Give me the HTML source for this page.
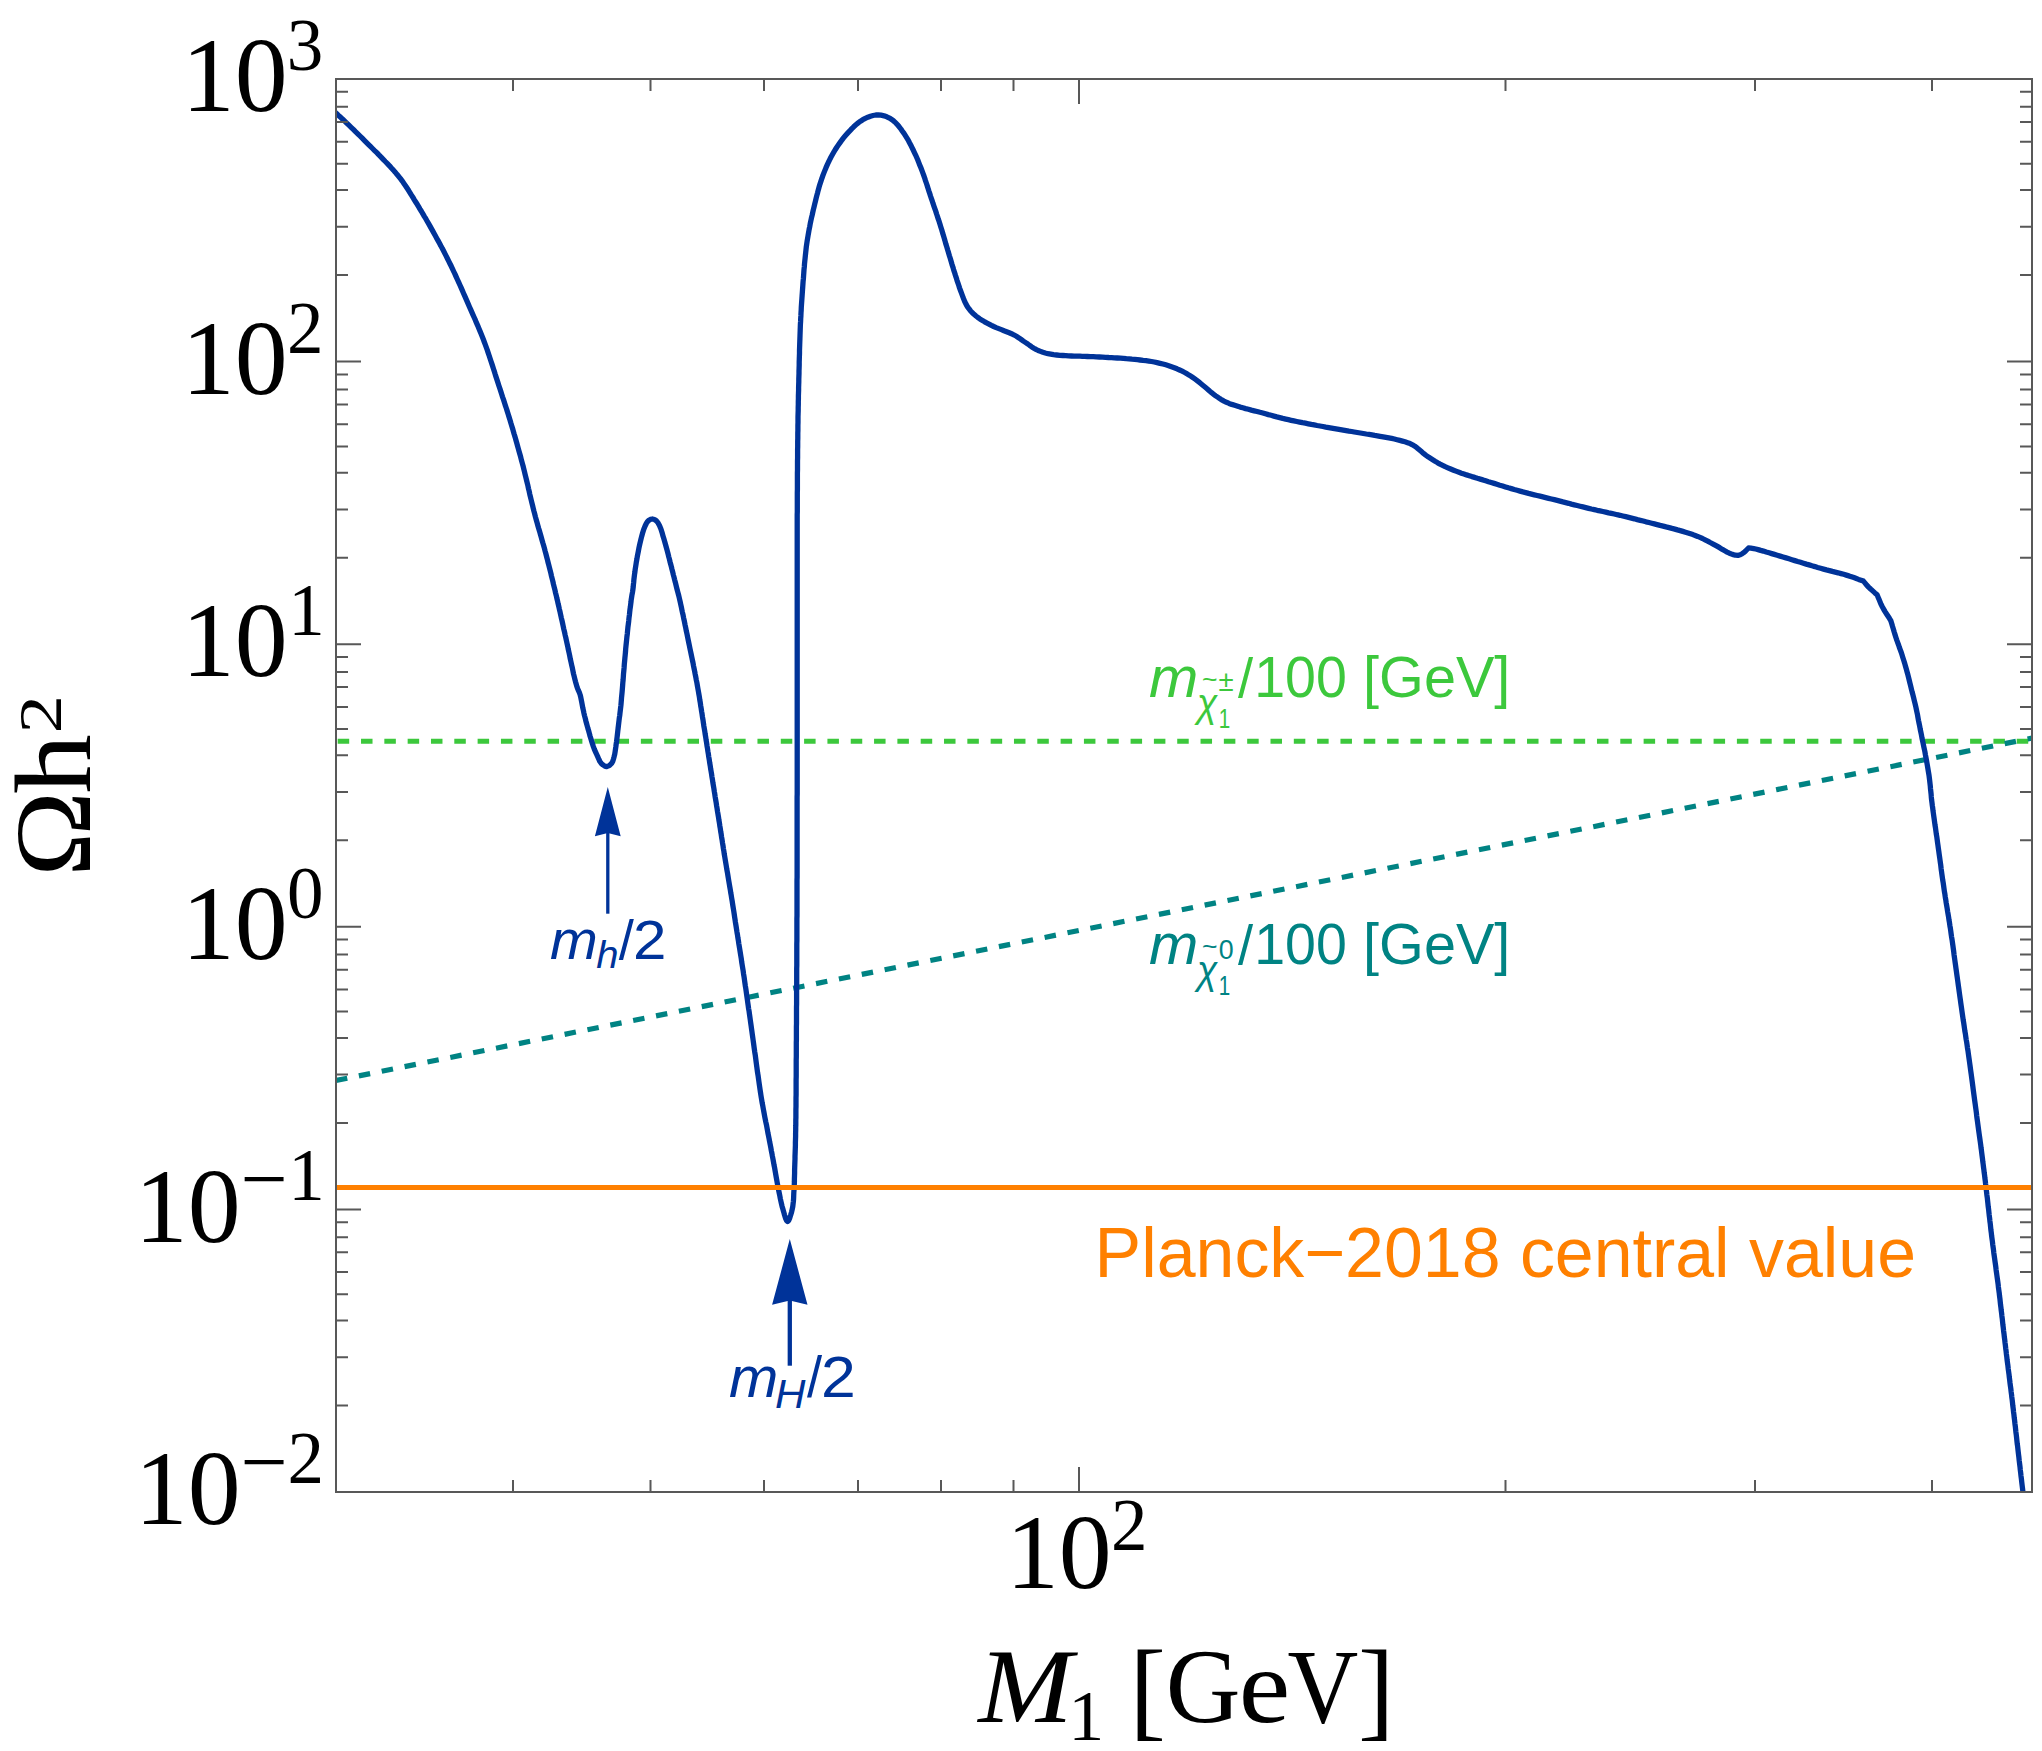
<!DOCTYPE html>
<html lang="en"><head><meta charset="utf-8"><title>Relic density versus M1</title>
<style>html,body{margin:0;padding:0;background:#fff;}body{width:2042px;height:1751px;overflow:hidden;}svg{display:block;}text{font-kerning:none;white-space:pre;}.s{font-family:"Liberation Serif","DejaVu Serif",serif;}.a{font-family:"Liberation Sans","DejaVu Sans",sans-serif;}</style></head><body>
<svg xmlns="http://www.w3.org/2000/svg" width="2042" height="1751" viewBox="0 0 2042 1751">
<rect x="0" y="0" width="2042" height="1751" fill="#ffffff"/>
<defs><clipPath id="c"><rect x="336.00" y="79.00" width="1696.00" height="1413.00"/></clipPath></defs>
<g clip-path="url(#c)" fill="none">
<path d="M336.0,741.30 L2062.0,741.30" stroke="#3cc83c" stroke-width="4.90" stroke-dasharray="11.5,11.82" stroke-dashoffset="-1.70"/>
<path d="M336.0,1080.5 L2032.0,738.1" stroke="#008383" stroke-width="5.20" stroke-dasharray="11.5,11.82" stroke-dashoffset="0.00"/>
<path d="M330.0,107.6 L331.9,109.3 L333.8,111.0 L336.2,113.2 L337.6,114.5 L339.1,116.0 L340.9,117.6 L342.7,119.3 L344.7,121.2 L346.7,123.1 L348.9,125.2 L351.1,127.3 L353.3,129.4 L355.5,131.6 L357.8,133.8 L360.0,136.0 L362.2,138.2 L364.3,140.3 L366.3,142.3 L368.3,144.3 L370.4,146.4 L372.5,148.5 L374.6,150.6 L376.8,152.7 L378.9,154.9 L381.1,157.1 L383.2,159.3 L385.3,161.5 L387.4,163.6 L389.5,165.8 L391.4,168.0 L393.4,170.1 L395.2,172.2 L396.9,174.3 L398.6,176.3 L400.5,178.7 L402.3,181.1 L403.9,183.4 L405.5,185.7 L407.0,188.0 L408.5,190.3 L409.9,192.6 L411.3,194.9 L412.8,197.2 L414.2,199.6 L415.7,202.0 L417.2,204.3 L418.6,206.7 L420.0,209.1 L421.5,211.5 L422.9,213.9 L424.3,216.3 L425.8,218.7 L427.2,221.2 L428.6,223.6 L430.0,226.1 L431.4,228.6 L432.8,231.1 L434.1,233.5 L435.5,236.0 L436.8,238.4 L438.2,240.9 L439.5,243.3 L440.8,245.8 L442.2,248.3 L443.5,250.8 L444.8,253.4 L446.1,255.9 L447.4,258.5 L448.7,261.1 L450.0,263.7 L451.3,266.3 L452.5,268.9 L453.7,271.5 L455.0,274.2 L456.2,276.9 L457.4,279.5 L458.6,282.2 L459.9,285.0 L461.1,287.7 L462.3,290.4 L463.5,293.2 L464.7,295.9 L465.9,298.6 L467.1,301.4 L468.3,304.1 L469.4,306.7 L470.6,309.4 L471.8,312.1 L473.0,314.8 L474.2,317.5 L475.4,320.2 L476.5,322.9 L477.7,325.6 L478.8,328.3 L480.0,331.1 L481.1,333.8 L482.2,336.5 L483.3,339.3 L484.3,342.0 L485.3,344.7 L486.3,347.4 L487.3,350.1 L488.2,352.8 L489.1,355.5 L490.0,358.3 L490.9,361.0 L491.8,363.7 L492.7,366.4 L493.6,369.2 L494.5,371.9 L495.3,374.6 L496.2,377.4 L497.1,380.1 L498.0,382.9 L498.9,385.7 L499.9,388.6 L500.8,391.4 L501.7,394.2 L502.6,397.1 L503.6,399.9 L504.5,402.8 L505.4,405.6 L506.4,408.5 L507.3,411.4 L508.2,414.2 L509.1,417.1 L510.0,420.0 L510.8,422.8 L511.7,425.7 L512.6,428.6 L513.4,431.4 L514.2,434.3 L515.1,437.1 L515.9,440.0 L516.7,442.8 L517.5,445.7 L518.3,448.6 L519.1,451.4 L519.9,454.3 L520.7,457.1 L521.4,460.0 L522.2,462.9 L523.0,465.7 L523.7,468.6 L524.4,471.4 L525.1,474.3 L525.8,477.2 L526.5,480.0 L527.2,482.9 L527.9,485.7 L528.5,488.6 L529.2,491.4 L529.8,494.3 L530.5,497.1 L531.2,500.0 L531.9,502.8 L532.6,505.7 L533.3,508.6 L534.0,511.4 L534.8,514.3 L535.5,517.1 L536.3,520.0 L537.1,522.8 L537.9,525.7 L538.7,528.5 L539.6,531.4 L540.4,534.3 L541.2,537.1 L542.0,540.0 L542.8,542.8 L543.7,545.7 L544.5,548.6 L545.2,551.4 L546.0,554.3 L546.7,557.0 L547.4,559.7 L548.1,562.5 L548.8,565.2 L549.5,567.9 L550.2,570.7 L550.9,573.4 L551.5,576.1 L552.2,578.9 L552.9,581.6 L553.5,584.4 L554.2,587.1 L554.9,589.8 L555.5,592.6 L556.2,595.3 L556.8,598.0 L557.5,600.8 L558.1,603.7 L558.8,606.5 L559.4,609.3 L560.1,612.2 L560.7,615.0 L561.3,617.8 L562.0,620.6 L562.6,623.4 L563.2,626.3 L563.8,629.1 L564.5,631.9 L565.1,634.8 L565.8,637.6 L566.4,640.5 L567.0,643.3 L567.7,646.3 L568.3,649.4 L569.0,652.5 L569.7,655.7 L570.3,658.9 L571.0,662.0 L571.7,665.2 L572.4,668.2 L573.0,671.2 L573.6,674.1 L574.3,676.8 L574.9,679.3 L575.5,681.7 L576.1,683.8 L576.6,685.7 L577.6,688.5 L578.5,690.7 L579.4,692.7 L580.2,695.0 L580.8,697.4 L581.3,700.0 L581.8,702.6 L582.3,705.3 L582.8,707.9 L583.4,710.5 L583.9,713.0 L584.5,715.6 L585.2,718.1 L585.8,720.7 L586.5,723.3 L587.2,725.9 L587.9,728.4 L588.7,731.0 L589.4,733.6 L590.1,736.2 L590.9,738.8 L591.7,741.4 L592.5,743.9 L593.3,746.4 L594.3,749.1 L595.5,751.8 L596.6,754.3 L597.7,756.7 L598.8,759.2 L599.9,761.5 L601.3,763.4 L603.0,764.9 L604.8,766.1 L606.7,766.6 L609.3,765.6 L611.6,763.4 L612.7,761.5 L613.4,759.2 L614.1,756.7 L614.7,754.3 L615.1,751.8 L615.5,749.1 L615.9,746.4 L616.2,743.9 L616.6,741.4 L616.9,738.8 L617.2,736.2 L617.5,733.6 L617.8,731.0 L618.1,728.4 L618.4,725.9 L618.7,723.3 L619.0,720.7 L619.3,718.1 L619.7,715.6 L620.0,713.0 L620.3,710.5 L620.6,707.9 L620.9,705.5 L621.1,703.2 L621.3,700.8 L621.5,698.1 L621.8,695.0 L622.0,693.0 L622.2,690.7 L622.4,688.3 L622.6,685.7 L622.8,683.0 L623.1,680.1 L623.3,677.1 L623.5,674.0 L623.8,670.9 L624.1,667.7 L624.3,664.5 L624.6,661.3 L624.9,658.1 L625.2,654.9 L625.5,651.8 L625.7,648.7 L626.0,645.7 L626.3,642.9 L626.6,639.9 L626.9,636.9 L627.3,633.8 L627.6,630.6 L627.9,627.4 L628.3,624.3 L628.7,621.1 L629.0,618.0 L629.4,615.0 L629.7,612.1 L630.0,609.3 L630.4,606.7 L630.7,604.2 L631.0,601.9 L631.2,599.8 L631.5,598.0 L632.0,594.7 L632.5,592.2 L632.9,589.5 L633.2,587.2 L633.4,584.7 L633.7,582.2 L633.9,579.6 L634.2,577.1 L634.5,574.6 L634.9,572.0 L635.2,569.4 L635.6,566.9 L636.0,564.3 L636.4,561.7 L636.9,559.1 L637.3,556.6 L637.8,554.0 L638.3,551.4 L638.8,548.8 L639.3,546.3 L639.9,543.7 L640.5,541.2 L641.1,538.6 L641.8,535.9 L642.6,533.1 L643.4,530.4 L644.3,527.9 L645.2,525.7 L646.2,523.7 L647.3,521.9 L648.5,520.6 L650.4,519.4 L652.4,519.0 L654.4,519.5 L656.3,520.8 L658.1,522.9 L659.6,525.7 L660.5,527.9 L661.4,530.4 L662.2,533.1 L663.0,535.9 L663.8,538.6 L664.6,541.2 L665.3,543.7 L666.0,546.3 L666.7,548.8 L667.4,551.4 L668.1,554.0 L668.7,556.6 L669.4,559.1 L670.0,561.7 L670.7,564.3 L671.4,566.9 L672.0,569.4 L672.7,572.0 L673.3,574.6 L674.0,577.1 L674.6,579.6 L675.3,582.2 L675.9,584.7 L676.5,587.2 L677.1,589.5 L677.8,592.2 L678.5,594.7 L679.3,598.0 L679.7,599.8 L680.2,601.9 L680.7,604.2 L681.3,606.8 L681.8,609.4 L682.4,612.3 L683.1,615.2 L683.7,618.3 L684.4,621.4 L685.0,624.6 L685.7,627.8 L686.3,630.9 L687.0,634.0 L687.6,637.1 L688.2,640.1 L688.8,642.9 L689.4,645.8 L690.0,648.7 L690.6,651.5 L691.2,654.4 L691.8,657.2 L692.4,660.1 L693.0,662.9 L693.5,665.8 L694.1,668.6 L694.7,671.5 L695.2,674.3 L695.8,677.1 L696.3,680.0 L696.9,682.8 L697.4,685.7 L697.9,688.6 L698.4,691.4 L698.9,694.3 L699.4,697.1 L699.8,700.0 L700.3,702.8 L700.7,705.7 L701.2,708.6 L701.6,711.4 L702.1,714.3 L702.5,717.2 L703.0,720.0 L703.4,722.9 L703.8,725.7 L704.3,728.6 L704.8,731.5 L705.2,734.3 L705.7,737.2 L706.1,740.0 L706.6,742.9 L707.0,745.7 L707.5,748.6 L707.9,751.4 L708.4,754.3 L708.8,757.1 L709.3,760.0 L709.7,762.8 L710.2,765.7 L710.6,768.5 L711.1,771.4 L711.6,774.3 L712.0,777.1 L712.5,780.0 L712.9,782.8 L713.4,785.7 L713.9,788.6 L714.3,791.4 L714.8,794.3 L715.2,797.1 L715.7,800.0 L716.2,802.9 L716.6,805.7 L717.1,808.6 L717.5,811.4 L718.0,814.3 L718.5,817.2 L718.9,820.0 L719.4,822.9 L719.8,825.7 L720.3,828.6 L720.7,831.5 L721.2,834.3 L721.6,837.2 L722.1,840.0 L722.5,842.9 L723.0,845.7 L723.4,848.6 L723.9,851.4 L724.3,854.3 L724.8,857.1 L725.3,860.1 L725.8,863.1 L726.3,866.2 L726.8,869.3 L727.4,872.4 L727.9,875.5 L728.4,878.6 L728.9,881.6 L729.4,884.6 L729.9,887.5 L730.4,890.4 L730.8,893.1 L731.3,895.8 L731.7,898.3 L732.2,901.3 L732.6,904.0 L733.0,906.5 L733.4,908.9 L733.8,911.4 L734.2,914.0 L734.6,916.8 L735.1,920.0 L735.4,922.2 L735.8,924.5 L736.2,927.0 L736.6,929.6 L737.0,932.2 L737.5,935.0 L737.9,937.8 L738.4,940.7 L738.8,943.6 L739.3,946.6 L739.8,949.7 L740.3,952.7 L740.8,955.8 L741.3,958.9 L741.7,962.0 L742.2,965.1 L742.7,968.1 L743.2,971.2 L743.6,974.2 L744.1,977.1 L744.5,980.0 L744.9,982.9 L745.3,985.7 L745.8,988.6 L746.2,991.4 L746.6,994.3 L747.0,997.1 L747.4,1000.0 L747.8,1002.9 L748.2,1005.7 L748.6,1008.6 L749.1,1011.4 L749.5,1014.3 L749.9,1017.1 L750.3,1020.0 L750.7,1022.9 L751.1,1025.7 L751.5,1028.6 L751.9,1031.4 L752.3,1034.3 L752.7,1037.1 L753.1,1040.0 L753.5,1042.9 L753.9,1045.8 L754.3,1048.8 L754.7,1051.7 L755.2,1054.7 L755.6,1057.7 L756.0,1060.8 L756.4,1063.8 L756.8,1066.8 L757.2,1069.8 L757.6,1072.8 L758.1,1075.7 L758.5,1078.7 L758.9,1081.5 L759.3,1084.4 L759.7,1087.1 L760.1,1089.9 L760.5,1092.5 L760.9,1095.1 L761.3,1097.6 L761.7,1100.0 L762.2,1103.1 L762.8,1106.1 L763.3,1108.9 L763.8,1111.6 L764.3,1114.3 L764.8,1116.9 L765.3,1119.5 L765.8,1122.0 L766.4,1124.6 L766.9,1127.3 L767.4,1130.0 L767.9,1132.9 L768.5,1135.8 L769.1,1138.7 L769.6,1141.6 L770.2,1144.6 L770.8,1147.5 L771.3,1150.5 L771.9,1153.4 L772.4,1156.3 L773.0,1159.2 L773.5,1162.0 L774.0,1164.9 L774.6,1167.8 L775.1,1170.7 L775.6,1173.6 L776.1,1176.5 L776.6,1179.3 L777.1,1182.1 L777.6,1184.8 L778.1,1187.4 L778.6,1190.0 L779.2,1192.9 L779.8,1195.8 L780.3,1198.5 L780.9,1201.2 L781.5,1203.8 L782.1,1206.4 L782.8,1208.8 L783.7,1211.9 L784.6,1215.3 L785.6,1218.4 L786.6,1220.6 L787.6,1221.5 L788.6,1220.6 L789.6,1218.4 L790.6,1215.3 L791.6,1211.9 L792.3,1208.8 L792.8,1206.4 L793.1,1203.8 L793.4,1201.2 L793.6,1198.5 L793.7,1195.7 L793.8,1192.9 L794.0,1190.0 L794.1,1187.3 L794.3,1184.6 L794.4,1181.9 L794.4,1179.1 L794.5,1176.2 L794.6,1173.3 L794.6,1170.3 L794.7,1167.3 L794.8,1164.3 L794.9,1161.7 L795.0,1159.0 L795.0,1156.4 L795.1,1153.8 L795.2,1151.1 L795.3,1148.4 L795.4,1145.6 L795.4,1142.7 L795.5,1139.7 L795.6,1136.6 L795.6,1133.4 L795.7,1130.0 L795.7,1127.6 L795.8,1125.2 L795.8,1122.7 L795.8,1120.2 L795.9,1117.6 L795.9,1114.9 L795.9,1112.3 L795.9,1109.5 L796.0,1106.7 L796.0,1103.9 L796.0,1101.0 L796.0,1098.1 L796.1,1095.1 L796.1,1092.1 L796.1,1089.1 L796.1,1086.0 L796.1,1082.9 L796.1,1079.8 L796.2,1076.6 L796.2,1073.3 L796.2,1070.1 L796.2,1066.8 L796.2,1063.5 L796.2,1060.2 L796.3,1056.8 L796.3,1053.4 L796.3,1050.0 L796.3,1047.5 L796.3,1045.0 L796.3,1042.4 L796.4,1039.9 L796.4,1037.3 L796.4,1034.6 L796.4,1032.0 L796.4,1029.3 L796.4,1026.6 L796.5,1023.9 L796.5,1021.1 L796.5,1018.4 L796.5,1015.6 L796.5,1012.8 L796.5,1010.0 L796.5,1007.1 L796.6,1004.3 L796.6,1001.4 L796.6,998.5 L796.6,995.6 L796.6,992.6 L796.6,989.7 L796.7,986.7 L796.7,983.8 L796.7,980.8 L796.7,977.8 L796.7,974.7 L796.7,971.7 L796.7,968.7 L796.8,965.6 L796.8,962.6 L796.8,959.5 L796.8,956.4 L796.8,953.3 L796.8,950.2 L796.8,947.1 L796.8,944.0 L796.9,940.9 L796.9,937.8 L796.9,934.6 L796.9,931.5 L796.9,928.4 L796.9,925.2 L796.9,922.1 L796.9,918.9 L797.0,915.8 L797.0,912.6 L797.0,909.5 L797.0,906.3 L797.0,903.2 L797.0,900.0 L797.0,897.2 L797.0,894.4 L797.0,891.6 L797.0,888.8 L797.0,886.0 L797.0,883.2 L797.0,880.3 L797.1,877.4 L797.1,874.6 L797.1,871.7 L797.1,868.8 L797.1,865.9 L797.1,863.0 L797.1,860.1 L797.1,857.2 L797.1,854.2 L797.1,851.3 L797.1,848.3 L797.1,845.4 L797.1,842.4 L797.1,839.4 L797.1,836.5 L797.1,833.5 L797.1,830.5 L797.1,827.5 L797.1,824.5 L797.1,821.5 L797.1,818.5 L797.1,815.4 L797.1,812.4 L797.1,809.4 L797.1,806.3 L797.1,803.3 L797.1,800.3 L797.1,797.2 L797.2,794.2 L797.2,791.1 L797.2,788.1 L797.2,785.0 L797.2,782.0 L797.2,778.9 L797.2,775.9 L797.2,772.8 L797.2,769.8 L797.2,766.7 L797.2,763.7 L797.2,760.6 L797.2,757.5 L797.2,754.5 L797.2,751.4 L797.2,748.4 L797.2,745.3 L797.2,742.3 L797.2,739.2 L797.2,736.2 L797.2,733.2 L797.2,730.1 L797.2,727.1 L797.2,724.1 L797.2,721.0 L797.2,718.0 L797.2,715.0 L797.2,712.0 L797.2,709.0 L797.2,706.0 L797.2,703.0 L797.2,700.0 L797.2,697.0 L797.2,694.0 L797.2,691.0 L797.2,687.9 L797.2,684.8 L797.2,681.8 L797.2,678.7 L797.2,675.6 L797.2,672.4 L797.2,669.3 L797.2,666.1 L797.2,663.0 L797.2,659.8 L797.2,656.7 L797.2,653.5 L797.2,650.3 L797.2,647.1 L797.2,643.9 L797.2,640.7 L797.2,637.5 L797.2,634.3 L797.2,631.1 L797.2,627.9 L797.2,624.6 L797.2,621.4 L797.2,618.2 L797.2,615.0 L797.2,611.8 L797.2,608.6 L797.2,605.5 L797.2,602.3 L797.2,599.1 L797.2,595.9 L797.2,592.8 L797.2,589.7 L797.2,586.5 L797.2,583.4 L797.2,580.3 L797.2,577.2 L797.2,574.1 L797.2,571.1 L797.2,568.0 L797.2,565.0 L797.2,562.0 L797.2,559.0 L797.2,556.0 L797.2,553.1 L797.2,550.2 L797.2,547.3 L797.2,544.4 L797.2,541.5 L797.2,538.7 L797.2,535.9 L797.2,533.1 L797.2,530.4 L797.2,527.7 L797.2,525.0 L797.2,522.3 L797.2,519.7 L797.2,517.1 L797.2,514.6 L797.3,512.0 L797.3,509.6 L797.3,507.1 L797.3,504.7 L797.3,502.3 L797.3,500.0 L797.3,496.4 L797.3,492.9 L797.4,489.4 L797.4,486.0 L797.4,482.7 L797.4,479.5 L797.4,476.3 L797.4,473.1 L797.5,470.0 L797.5,467.0 L797.5,464.0 L797.5,461.0 L797.6,458.1 L797.6,455.2 L797.6,452.4 L797.6,449.6 L797.7,446.8 L797.7,444.0 L797.7,441.3 L797.8,438.6 L797.8,435.9 L797.8,433.2 L797.9,430.6 L797.9,427.9 L797.9,425.3 L798.0,422.6 L798.0,420.0 L798.0,416.8 L798.1,413.7 L798.2,410.7 L798.2,407.6 L798.3,404.7 L798.3,401.7 L798.4,398.8 L798.4,395.9 L798.5,393.1 L798.6,390.3 L798.6,387.5 L798.7,384.7 L798.8,381.9 L798.8,379.2 L798.9,376.4 L799.0,373.7 L799.0,371.0 L799.1,368.3 L799.2,365.2 L799.2,362.2 L799.3,359.2 L799.4,356.2 L799.5,353.3 L799.5,350.4 L799.6,347.5 L799.7,344.6 L799.8,341.7 L799.9,338.8 L800.0,335.9 L800.1,333.0 L800.2,330.1 L800.3,327.1 L800.4,324.3 L800.6,321.4 L800.7,318.6 L800.9,315.7 L801.0,312.9 L801.2,310.0 L801.3,307.2 L801.5,304.3 L801.7,301.5 L801.9,298.6 L802.1,295.7 L802.3,292.9 L802.5,290.0 L802.7,287.2 L802.9,284.3 L803.1,281.4 L803.4,278.5 L803.6,275.6 L803.8,272.7 L804.0,269.8 L804.3,266.9 L804.5,264.0 L804.8,261.1 L805.1,258.2 L805.4,255.3 L805.7,252.5 L806.0,249.7 L806.3,246.9 L806.7,244.1 L807.1,241.4 L807.6,238.4 L808.1,235.4 L808.6,232.5 L809.1,229.6 L809.7,226.7 L810.2,223.9 L810.8,221.0 L811.4,218.2 L812.1,215.4 L812.7,212.6 L813.3,209.9 L814.0,207.1 L814.7,204.2 L815.4,201.3 L816.1,198.4 L816.8,195.6 L817.6,192.7 L818.3,189.9 L819.1,187.1 L819.9,184.3 L820.8,181.6 L821.7,178.9 L822.6,176.3 L823.7,173.4 L824.8,170.6 L825.9,167.9 L827.1,165.2 L828.3,162.5 L829.6,159.9 L830.9,157.3 L832.3,154.8 L833.7,152.3 L835.2,149.7 L836.8,147.2 L838.5,144.8 L840.2,142.4 L841.9,140.0 L843.7,137.7 L845.5,135.5 L847.4,133.4 L849.5,131.2 L851.6,128.9 L853.7,126.8 L855.9,124.8 L858.2,122.9 L860.5,121.2 L862.8,119.7 L865.3,118.4 L867.9,117.2 L870.5,116.2 L873.1,115.5 L875.8,115.0 L878.3,114.9 L881.1,115.2 L884.0,115.8 L886.8,116.8 L889.5,118.1 L892.0,119.7 L893.9,121.2 L895.8,122.9 L897.5,124.8 L899.2,126.8 L900.9,129.0 L902.4,131.2 L904.0,133.4 L905.4,135.6 L906.8,137.8 L908.2,140.1 L909.4,142.5 L910.7,144.9 L911.9,147.4 L913.1,149.8 L914.3,152.3 L915.5,154.8 L916.6,157.3 L917.7,159.8 L918.7,162.4 L919.7,164.9 L920.8,167.5 L921.8,170.2 L922.8,172.9 L923.7,175.3 L924.6,177.8 L925.4,180.4 L926.3,183.0 L927.2,185.6 L928.0,188.2 L928.8,190.8 L929.7,193.4 L930.5,196.0 L931.4,198.6 L932.3,201.2 L933.1,203.7 L934.0,206.3 L934.9,208.9 L935.8,211.4 L936.6,214.0 L937.5,216.6 L938.3,219.2 L939.2,221.7 L940.0,224.3 L940.9,227.2 L941.8,230.0 L942.6,232.9 L943.5,235.8 L944.4,238.7 L945.2,241.6 L946.0,244.4 L946.9,247.2 L947.7,250.0 L948.6,252.9 L949.4,255.7 L950.3,258.5 L951.1,261.3 L951.9,264.1 L952.8,266.8 L953.6,269.6 L954.5,272.3 L955.3,274.9 L956.2,277.6 L957.0,280.3 L957.9,282.9 L958.8,285.5 L959.6,288.1 L960.5,290.5 L961.4,292.9 L962.5,295.9 L963.6,298.8 L964.7,301.5 L966.0,304.1 L967.4,306.6 L968.9,308.7 L970.4,310.7 L972.1,312.5 L974.0,314.3 L976.0,316.0 L977.9,317.5 L979.9,318.9 L982.0,320.2 L984.3,321.6 L986.6,322.9 L989.0,324.1 L991.4,325.4 L993.7,326.5 L996.2,327.6 L998.8,328.6 L1001.4,329.6 L1004.0,330.7 L1006.6,331.7 L1009.2,332.7 L1011.5,333.7 L1013.7,334.8 L1016.4,336.3 L1018.9,337.9 L1021.2,339.5 L1023.4,341.1 L1025.7,342.6 L1027.8,344.0 L1029.8,345.5 L1031.8,346.9 L1033.9,348.2 L1036.0,349.4 L1038.2,350.5 L1040.5,351.4 L1042.9,352.3 L1045.3,353.0 L1048.0,353.7 L1050.7,354.2 L1053.6,354.7 L1056.7,355.0 L1059.8,355.3 L1062.9,355.5 L1065.8,355.7 L1068.5,355.9 L1071.5,356.0 L1074.1,356.1 L1076.8,356.1 L1080.0,356.2 L1082.2,356.3 L1084.7,356.4 L1087.4,356.5 L1090.3,356.6 L1093.2,356.7 L1096.3,356.9 L1099.4,357.0 L1102.6,357.1 L1105.6,357.3 L1108.7,357.5 L1111.6,357.6 L1114.3,357.8 L1117.3,358.0 L1120.4,358.2 L1123.3,358.4 L1126.3,358.7 L1129.1,358.9 L1132.0,359.2 L1134.7,359.4 L1137.4,359.7 L1140.0,360.0 L1143.1,360.4 L1146.0,360.7 L1148.8,361.1 L1151.5,361.5 L1154.3,362.0 L1157.1,362.6 L1160.0,363.3 L1162.9,364.0 L1165.8,364.8 L1168.7,365.7 L1171.5,366.7 L1174.3,367.7 L1177.0,368.8 L1179.6,370.0 L1182.2,371.2 L1184.7,372.5 L1187.2,373.9 L1189.7,375.4 L1192.1,377.0 L1194.5,378.7 L1196.8,380.4 L1199.1,382.2 L1201.3,384.0 L1203.4,385.7 L1205.6,387.5 L1207.6,389.2 L1209.6,391.0 L1211.6,392.7 L1213.7,394.3 L1215.7,395.8 L1217.7,397.2 L1219.7,398.6 L1221.8,399.9 L1224.0,401.1 L1226.5,402.3 L1229.1,403.4 L1231.8,404.4 L1234.7,405.3 L1237.7,406.3 L1240.2,407.1 L1242.8,407.8 L1245.6,408.6 L1248.4,409.3 L1251.3,410.1 L1254.2,410.8 L1257.1,411.5 L1260.0,412.3 L1262.8,413.0 L1265.5,413.8 L1268.3,414.6 L1271.1,415.3 L1273.9,416.1 L1276.8,416.9 L1279.7,417.6 L1282.7,418.4 L1285.7,419.1 L1288.4,419.7 L1291.1,420.3 L1293.9,420.9 L1296.7,421.5 L1299.6,422.1 L1302.5,422.7 L1305.4,423.2 L1308.4,423.8 L1311.3,424.4 L1314.2,424.9 L1317.1,425.5 L1320.0,426.0 L1322.9,426.5 L1325.8,427.1 L1328.7,427.6 L1331.6,428.1 L1334.5,428.6 L1337.5,429.1 L1340.4,429.6 L1343.2,430.1 L1346.1,430.6 L1348.9,431.1 L1351.6,431.5 L1354.3,432.0 L1357.3,432.5 L1360.4,433.0 L1363.3,433.5 L1366.3,434.0 L1369.1,434.4 L1372.0,434.9 L1374.7,435.4 L1377.4,435.8 L1380.0,436.3 L1383.1,436.9 L1386.0,437.4 L1388.8,437.9 L1391.6,438.4 L1394.4,439.0 L1397.1,439.7 L1399.8,440.4 L1402.4,441.1 L1405.0,441.8 L1407.6,442.7 L1410.1,443.6 L1412.5,444.8 L1414.8,446.2 L1417.1,447.9 L1419.3,449.8 L1421.4,451.6 L1423.5,453.4 L1425.7,455.1 L1428.1,456.8 L1430.4,458.3 L1432.7,459.8 L1435.1,461.3 L1437.7,462.8 L1440.1,464.1 L1442.6,465.3 L1445.2,466.6 L1447.9,467.8 L1450.7,469.0 L1453.6,470.2 L1456.6,471.4 L1459.0,472.3 L1461.4,473.2 L1464.0,474.0 L1466.6,474.9 L1469.2,475.7 L1471.9,476.6 L1474.7,477.4 L1477.4,478.3 L1480.2,479.1 L1482.9,479.9 L1485.7,480.8 L1488.5,481.7 L1491.2,482.5 L1494.1,483.4 L1496.9,484.3 L1499.8,485.2 L1502.7,486.0 L1505.5,486.9 L1508.4,487.8 L1511.3,488.6 L1514.2,489.5 L1517.1,490.3 L1520.0,491.1 L1522.9,491.9 L1525.7,492.6 L1528.6,493.4 L1531.4,494.1 L1534.3,494.8 L1537.1,495.5 L1540.0,496.2 L1542.9,496.9 L1545.7,497.6 L1548.6,498.3 L1551.4,499.0 L1554.3,499.7 L1557.2,500.4 L1560.0,501.1 L1562.9,501.9 L1565.7,502.6 L1568.6,503.3 L1571.4,504.1 L1574.3,504.8 L1577.2,505.5 L1580.0,506.2 L1582.9,506.9 L1585.7,507.6 L1588.6,508.3 L1591.4,509.0 L1594.3,509.6 L1597.1,510.3 L1600.0,510.9 L1602.8,511.5 L1605.7,512.1 L1608.6,512.8 L1611.4,513.4 L1614.3,514.0 L1617.1,514.7 L1620.0,515.3 L1622.8,516.0 L1625.7,516.7 L1628.6,517.4 L1631.5,518.1 L1634.4,518.8 L1637.3,519.6 L1640.3,520.3 L1643.2,521.0 L1646.0,521.8 L1648.9,522.5 L1651.7,523.2 L1654.4,523.9 L1657.1,524.6 L1660.1,525.4 L1663.2,526.1 L1666.1,526.9 L1669.1,527.6 L1672.0,528.4 L1674.8,529.1 L1677.5,529.9 L1680.2,530.6 L1682.8,531.4 L1685.5,532.2 L1688.0,533.0 L1690.5,533.8 L1692.9,534.6 L1695.2,535.5 L1697.6,536.4 L1700.0,537.4 L1702.5,538.5 L1705.1,539.8 L1707.7,541.1 L1710.2,542.5 L1712.7,543.8 L1715.1,545.1 L1717.4,546.4 L1720.0,547.9 L1722.4,549.4 L1724.8,550.8 L1727.1,552.1 L1729.4,553.2 L1732.4,554.4 L1735.3,555.2 L1738.0,555.4 L1740.2,554.8 L1742.2,553.7 L1744.0,552.4 L1745.6,551.0 L1747.0,549.5 L1748.5,548.0 L1750.9,548.2 L1753.7,548.6 L1755.8,549.0 L1758.1,549.6 L1760.7,550.4 L1763.4,551.1 L1766.2,552.0 L1769.1,552.8 L1771.7,553.6 L1774.4,554.4 L1777.2,555.2 L1780.1,556.1 L1783.0,557.0 L1786.0,557.9 L1789.0,558.8 L1791.9,559.7 L1794.8,560.6 L1797.7,561.5 L1800.5,562.3 L1803.4,563.2 L1806.3,564.1 L1809.1,564.9 L1812.0,565.8 L1814.9,566.6 L1817.7,567.5 L1820.6,568.3 L1823.5,569.1 L1826.4,569.9 L1829.4,570.6 L1832.3,571.4 L1835.2,572.1 L1838.1,572.8 L1841.0,573.6 L1843.7,574.3 L1846.3,575.1 L1848.9,575.9 L1851.5,576.8 L1853.9,577.6 L1856.3,578.5 L1858.6,579.4 L1861.0,580.2 L1863.4,581.1 L1865.1,583.1 L1866.7,585.1 L1868.6,587.1 L1870.6,589.0 L1872.7,590.9 L1874.9,592.9 L1877.1,594.8 L1878.1,597.2 L1879.1,599.6 L1880.1,602.0 L1881.1,604.4 L1882.3,606.8 L1883.6,609.1 L1884.9,611.4 L1886.4,613.7 L1887.9,616.0 L1889.4,618.3 L1890.8,620.6 L1891.7,623.5 L1892.5,626.3 L1893.4,629.2 L1894.2,632.0 L1895.1,634.9 L1896.0,637.7 L1896.8,640.1 L1897.7,642.6 L1898.6,645.0 L1899.4,647.5 L1900.3,649.9 L1901.2,652.3 L1902.0,654.8 L1902.9,657.7 L1903.8,660.5 L1904.7,663.4 L1905.5,666.3 L1906.3,669.1 L1907.1,672.0 L1907.9,674.8 L1908.6,677.7 L1909.3,680.5 L1910.0,683.4 L1910.7,686.2 L1911.4,689.1 L1912.1,692.0 L1912.9,694.8 L1913.6,697.7 L1914.3,700.6 L1915.0,703.4 L1915.7,706.3 L1916.3,709.1 L1916.9,712.0 L1917.5,714.8 L1918.0,717.7 L1918.5,720.5 L1919.1,723.4 L1919.7,726.2 L1920.2,729.1 L1920.8,731.9 L1921.4,734.8 L1921.9,737.6 L1922.5,740.5 L1923.1,743.3 L1923.7,746.2 L1924.3,749.0 L1924.9,751.8 L1925.4,754.7 L1926.0,757.7 L1926.5,760.5 L1927.0,763.4 L1927.5,766.3 L1928.0,769.2 L1928.5,772.2 L1929.0,775.2 L1929.4,778.3 L1929.7,780.9 L1930.0,783.5 L1930.3,786.1 L1930.5,788.7 L1930.8,791.4 L1931.1,794.1 L1931.3,796.9 L1931.6,799.9 L1932.0,802.9 L1932.3,805.4 L1932.7,808.0 L1933.0,810.7 L1933.4,813.5 L1933.8,816.3 L1934.2,819.2 L1934.6,822.1 L1935.0,825.0 L1935.5,828.0 L1935.9,831.0 L1936.3,834.0 L1936.8,836.9 L1937.2,839.9 L1937.6,842.8 L1938.0,845.7 L1938.4,848.6 L1938.8,851.4 L1939.2,854.3 L1939.6,857.1 L1940.0,860.0 L1940.4,862.9 L1940.8,865.7 L1941.1,868.6 L1941.5,871.4 L1941.9,874.3 L1942.3,877.2 L1942.7,880.0 L1943.2,882.9 L1943.6,885.7 L1944.0,888.6 L1944.4,891.5 L1944.9,894.3 L1945.3,897.2 L1945.8,900.0 L1946.2,902.9 L1946.7,905.7 L1947.2,908.6 L1947.6,911.4 L1948.1,914.3 L1948.6,917.1 L1949.0,920.0 L1949.5,922.8 L1949.9,925.7 L1950.4,928.5 L1950.8,931.4 L1951.2,934.3 L1951.6,937.1 L1952.1,940.0 L1952.5,942.8 L1952.9,945.7 L1953.3,948.6 L1953.7,951.4 L1954.0,954.3 L1954.4,957.1 L1954.8,960.0 L1955.2,962.9 L1955.6,965.7 L1956.0,968.6 L1956.4,971.4 L1956.8,974.3 L1957.2,977.2 L1957.6,980.0 L1958.0,982.9 L1958.4,985.8 L1958.8,988.7 L1959.2,991.6 L1959.6,994.5 L1960.0,997.3 L1960.4,1000.2 L1960.8,1003.1 L1961.2,1005.9 L1961.6,1008.7 L1962.0,1011.6 L1962.4,1014.3 L1962.8,1017.1 L1963.2,1020.0 L1963.7,1022.9 L1964.1,1025.7 L1964.5,1028.5 L1964.9,1031.3 L1965.4,1034.0 L1965.8,1036.8 L1966.2,1039.6 L1966.7,1042.4 L1967.1,1045.2 L1967.5,1048.1 L1968.0,1051.0 L1968.4,1054.0 L1968.8,1056.8 L1969.2,1059.6 L1969.6,1062.5 L1970.0,1065.4 L1970.4,1068.3 L1970.8,1071.3 L1971.2,1074.2 L1971.6,1077.2 L1972.0,1080.2 L1972.4,1083.2 L1972.8,1086.2 L1973.2,1089.3 L1973.6,1092.3 L1974.0,1095.3 L1974.4,1098.4 L1974.8,1101.4 L1975.2,1104.2 L1975.6,1107.1 L1976.0,1110.0 L1976.4,1112.9 L1976.7,1115.8 L1977.1,1118.8 L1977.5,1121.7 L1977.9,1124.7 L1978.3,1127.6 L1978.7,1130.6 L1979.1,1133.5 L1979.5,1136.4 L1979.9,1139.2 L1980.3,1142.0 L1980.7,1144.8 L1981.0,1147.5 L1981.4,1150.2 L1981.7,1152.8 L1982.1,1155.9 L1982.5,1158.8 L1982.8,1161.7 L1983.2,1164.5 L1983.5,1167.2 L1983.9,1169.9 L1984.2,1172.7 L1984.6,1175.4 L1984.9,1178.2 L1985.3,1181.1 L1985.6,1184.0 L1986.0,1187.1 L1986.3,1189.7 L1986.6,1192.4 L1986.9,1195.1 L1987.3,1197.8 L1987.6,1200.7 L1987.9,1203.5 L1988.2,1206.4 L1988.6,1209.3 L1988.9,1212.2 L1989.2,1215.1 L1989.6,1218.1 L1989.9,1221.1 L1990.3,1224.0 L1990.6,1227.0 L1990.9,1229.9 L1991.3,1232.8 L1991.6,1235.7 L1992.0,1238.6 L1992.4,1241.5 L1992.7,1244.3 L1993.1,1247.1 L1993.5,1250.0 L1993.8,1252.8 L1994.2,1255.6 L1994.6,1258.4 L1995.0,1261.3 L1995.4,1264.1 L1995.8,1266.9 L1996.1,1269.8 L1996.5,1272.6 L1996.9,1275.5 L1997.3,1278.4 L1997.7,1281.2 L1998.1,1284.1 L1998.4,1287.1 L1998.8,1290.0 L1999.2,1292.8 L1999.5,1295.7 L1999.9,1298.6 L2000.2,1301.5 L2000.5,1304.4 L2000.9,1307.3 L2001.2,1310.2 L2001.6,1313.1 L2001.9,1316.1 L2002.3,1319.0 L2002.6,1322.0 L2002.9,1324.9 L2003.3,1327.9 L2003.6,1330.8 L2004.0,1333.8 L2004.3,1336.7 L2004.7,1339.6 L2005.0,1342.5 L2005.4,1345.4 L2005.7,1348.3 L2006.1,1351.2 L2006.4,1354.1 L2006.8,1357.0 L2007.1,1359.9 L2007.5,1362.8 L2007.9,1365.7 L2008.2,1368.6 L2008.6,1371.5 L2009.0,1374.3 L2009.3,1377.2 L2009.7,1380.1 L2010.0,1382.9 L2010.4,1385.8 L2010.8,1388.6 L2011.1,1391.5 L2011.5,1394.3 L2011.8,1397.1 L2012.2,1400.0 L2012.5,1402.8 L2012.8,1405.7 L2013.2,1408.6 L2013.5,1411.6 L2013.9,1414.5 L2014.2,1417.4 L2014.6,1420.4 L2014.9,1423.3 L2015.3,1426.3 L2015.6,1429.2 L2015.9,1432.1 L2016.3,1435.0 L2016.6,1437.8 L2016.9,1440.7 L2017.2,1443.5 L2017.6,1446.2 L2017.9,1449.0 L2018.2,1451.7 L2018.5,1454.3 L2018.9,1457.4 L2019.2,1460.5 L2019.6,1463.7 L2020.0,1466.8 L2020.3,1470.0 L2020.7,1473.0 L2021.0,1476.0 L2021.4,1478.9 L2021.7,1481.7 L2022.0,1484.3 L2022.3,1486.8 L2022.6,1489.1 L2022.8,1491.1 L2023.1,1494.0 L2023.4,1496.4 L2023.7,1498.7 L2024.0,1501.0" stroke="#003399" stroke-width="5.30" stroke-linejoin="round"/>
<path d="M336.0,1187.50 L2032.0,1187.50" stroke="#ff8000" stroke-width="5.20"/>
</g>
<path d="M607.80,832.0 L607.80,913.7" stroke="#003399" stroke-width="3.30" fill="none"/>
<path d="M607.80,786.9 L620.70,836.3 L607.80,833.0 L594.90,836.3 Z" fill="#003399"/>
<path d="M789.80,1299.6 L789.80,1365.7" stroke="#003399" stroke-width="4.30" fill="none"/>
<path d="M789.80,1239.0 L807.50,1304.8 L789.80,1300.6 L772.10,1304.8 Z" fill="#003399"/>
<path d="M336.00,1405.50h12.0M2032.00,1405.50h-12.0M336.00,1357.20h12.0M2032.00,1357.20h-12.0M336.00,1320.50h12.0M2032.00,1320.50h-12.0M336.00,1294.20h12.0M2032.00,1294.20h-12.0M336.00,1272.10h12.0M2032.00,1272.10h-12.0M336.00,1252.30h12.0M2032.00,1252.30h-12.0M336.00,1237.20h12.0M2032.00,1237.20h-12.0M336.00,1222.20h12.0M2032.00,1222.20h-12.0M336.00,1209.40h25.0M2032.00,1209.40h-25.0M336.00,1122.90h12.0M2032.00,1122.90h-12.0M336.00,1074.60h12.0M2032.00,1074.60h-12.0M336.00,1037.90h12.0M2032.00,1037.90h-12.0M336.00,1011.60h12.0M2032.00,1011.60h-12.0M336.00,989.50h12.0M2032.00,989.50h-12.0M336.00,969.70h12.0M2032.00,969.70h-12.0M336.00,954.60h12.0M2032.00,954.60h-12.0M336.00,939.60h12.0M2032.00,939.60h-12.0M336.00,926.80h25.0M2032.00,926.80h-25.0M336.00,840.30h12.0M2032.00,840.30h-12.0M336.00,792.00h12.0M2032.00,792.00h-12.0M336.00,755.30h12.0M2032.00,755.30h-12.0M336.00,729.00h12.0M2032.00,729.00h-12.0M336.00,706.90h12.0M2032.00,706.90h-12.0M336.00,687.10h12.0M2032.00,687.10h-12.0M336.00,672.00h12.0M2032.00,672.00h-12.0M336.00,657.00h12.0M2032.00,657.00h-12.0M336.00,644.20h25.0M2032.00,644.20h-25.0M336.00,557.70h12.0M2032.00,557.70h-12.0M336.00,509.40h12.0M2032.00,509.40h-12.0M336.00,472.70h12.0M2032.00,472.70h-12.0M336.00,446.40h12.0M2032.00,446.40h-12.0M336.00,424.30h12.0M2032.00,424.30h-12.0M336.00,404.50h12.0M2032.00,404.50h-12.0M336.00,389.40h12.0M2032.00,389.40h-12.0M336.00,374.40h12.0M2032.00,374.40h-12.0M336.00,361.60h25.0M2032.00,361.60h-25.0M336.00,275.10h12.0M2032.00,275.10h-12.0M336.00,226.80h12.0M2032.00,226.80h-12.0M336.00,190.10h12.0M2032.00,190.10h-12.0M336.00,163.80h12.0M2032.00,163.80h-12.0M336.00,141.70h12.0M2032.00,141.70h-12.0M336.00,121.90h12.0M2032.00,121.90h-12.0M336.00,106.80h12.0M2032.00,106.80h-12.0M336.00,91.80h12.0M2032.00,91.80h-12.0M513.00,1492.00v-12.0M513.00,79.00v12.0M650.50,1492.00v-12.0M650.50,79.00v12.0M764.00,1492.00v-12.0M764.00,79.00v12.0M858.00,1492.00v-12.0M858.00,79.00v12.0M941.00,1492.00v-12.0M941.00,79.00v12.0M1013.50,1492.00v-12.0M1013.50,79.00v12.0M1079.00,1492.00v-25.0M1079.00,79.00v25.0M1505.50,1492.00v-12.0M1505.50,79.00v12.0M1755.00,1492.00v-12.0M1755.00,79.00v12.0M1932.00,1492.00v-12.0M1932.00,79.00v12.0" stroke="#585858" stroke-width="2.00" fill="none"/>
<rect x="336.00" y="79.00" width="1696.00" height="1413.00" fill="none" stroke="#585858" stroke-width="2.00"/>
<text class="s" transform="translate(181.80,111.20)" font-size="105.80" fill="#000">10</text>
<text class="s" transform="translate(286.71,70.00)" font-size="73.00" fill="#000">3</text>
<text class="s" transform="translate(181.80,393.80)" font-size="105.80" fill="#000">10</text>
<text class="s" transform="translate(286.99,352.60)" font-size="73.00" fill="#000">2</text>
<text class="s" transform="translate(181.80,676.40)" font-size="105.80" fill="#000">10</text>
<text class="s" transform="translate(288.28,635.20)" font-size="73.00" fill="#000">1</text>
<text class="s" transform="translate(181.80,959.00)" font-size="105.80" fill="#000">10</text>
<text class="s" transform="translate(287.02,917.80)" font-size="73.00" fill="#000">0</text>
<text class="s" transform="translate(134.80,1241.60)" font-size="105.80" fill="#000">10</text>
<text class="s" transform="translate(240.54,1207.30)" font-size="83.60" fill="#000">−</text>
<text class="s" transform="translate(288.28,1200.40)" font-size="73.00" fill="#000">1</text>
<text class="s" transform="translate(134.80,1524.20)" font-size="105.80" fill="#000">10</text>
<text class="s" transform="translate(240.54,1489.90)" font-size="83.60" fill="#000">−</text>
<text class="s" transform="translate(287.39,1483.00)" font-size="73.00" fill="#000">2</text>
<text class="s" transform="translate(1005.90,1588.10)" font-size="105.80" fill="#000">10</text>
<text class="s" transform="translate(1110.89,1549.70)" font-size="73.00" fill="#000">2</text>
<text class="s" transform="translate(978.33,1722.30) scale(1.0729,1.0000)" font-size="105.80" font-style="italic" fill="#000">M</text>
<text class="s" transform="translate(1068.17,1739.50)" font-size="72.00" fill="#000">1</text>
<text class="s" transform="translate(1129.49,1725.80)" font-size="109.30" fill="#000">[</text>
<text class="s" transform="translate(1165.75,1722.30) scale(0.9788,1.0000)" font-size="105.80" fill="#000">G</text>
<text class="s" transform="translate(1238.87,1722.30) scale(1.0956,1.0000)" font-size="105.80" fill="#000">e</text>
<text class="s" transform="translate(1287.60,1722.30) scale(0.9267,1.0000)" font-size="105.80" fill="#000">V</text>
<text class="s" transform="translate(1358.05,1725.80)" font-size="109.30" fill="#000">]</text>
<text class="s" transform="translate(89.80,876.67) rotate(-90) scale(1.0733,1.0000)" font-size="107.50" fill="#000">Ω</text>
<text class="s" transform="translate(89.80,793.66) rotate(-90) scale(1.1095,1.0000)" font-size="107.50" fill="#000">h</text>
<text class="s" transform="translate(60.80,733.49) rotate(-90) scale(1.2533,1.0000)" font-size="61.50" fill="#000">2</text>
<text class="a" transform="translate(550.05,958.80) scale(1.0343,1.0000)" font-size="55.50" font-style="italic" fill="#003399">m</text>
<text class="a" transform="translate(596.33,967.90) scale(1.0472,1.0000)" font-size="38.30" font-style="italic" fill="#003399">h</text>
<text class="a" transform="translate(618.80,958.80) scale(0.9705,1.0000)" font-size="56.00" fill="#003399">/</text>
<text class="a" transform="translate(632.98,958.80) scale(1.0817,1.0000)" font-size="55.60" fill="#003399">2</text>
<text class="a" transform="translate(728.92,1396.80) scale(1.0426,1.0000)" font-size="56.80" font-style="italic" fill="#003399">m</text>
<text class="a" transform="translate(774.90,1407.90) scale(1.0286,1.0000)" font-size="41.00" font-style="italic" fill="#003399">H</text>
<text class="a" transform="translate(807.10,1396.80) scale(0.9535,1.0000)" font-size="57.00" fill="#003399">/</text>
<text class="a" transform="translate(821.05,1396.80) scale(1.0975,1.0000)" font-size="57.00" fill="#003399">2</text>
<text class="a" transform="translate(1148.92,696.80) scale(1.0389,1.0000)" font-size="57.00" font-style="italic" fill="#3cc83c">m</text>
<text class="a" transform="translate(1196.92,716.70) scale(0.9338,1.0000)" font-size="40.00" font-style="italic" fill="#3cc83c">χ</text>
<text class="a" transform="translate(1201.91,688.40)" font-size="26.50" fill="#3cc83c">~</text>
<text class="a" transform="translate(1218.63,727.80) scale(0.7372,1.0000)" font-size="28.00" fill="#3cc83c">1</text>
<text class="a" transform="translate(1218.62,691.00) scale(0.9511,1.0000)" font-size="29.00" fill="#3cc83c">±</text>
<text class="a" transform="translate(1238.00,696.80) scale(0.9705,1.0000)" font-size="56.00" fill="#3cc83c">/</text>
<text class="a" transform="translate(1254.17,696.80) scale(0.9652,1.0000)" font-size="57.50" fill="#3cc83c">100</text>
<text class="a" transform="translate(1363.10,696.80) scale(1.0102,1.0000)" font-size="57.00" fill="#3cc83c">[GeV]</text>
<text class="a" transform="translate(1148.92,963.80) scale(1.0389,1.0000)" font-size="57.00" font-style="italic" fill="#008383">m</text>
<text class="a" transform="translate(1196.92,983.70) scale(0.9338,1.0000)" font-size="40.00" font-style="italic" fill="#008383">χ</text>
<text class="a" transform="translate(1201.91,955.40)" font-size="26.50" fill="#008383">~</text>
<text class="a" transform="translate(1218.63,994.80) scale(0.7372,1.0000)" font-size="28.00" fill="#008383">1</text>
<text class="a" transform="translate(1218.85,958.80)" font-size="26.80" fill="#008383">0</text>
<text class="a" transform="translate(1238.00,963.80) scale(0.9705,1.0000)" font-size="56.00" fill="#008383">/</text>
<text class="a" transform="translate(1254.17,963.80) scale(0.9652,1.0000)" font-size="57.50" fill="#008383">100</text>
<text class="a" transform="translate(1363.10,963.80) scale(1.0102,1.0000)" font-size="57.00" fill="#008383">[GeV]</text>
<text class="a" transform="translate(1094.57,1276.90) scale(0.9939,1.0000)" font-size="70.30" fill="#ff8000">Planck−2018 central value</text>
</svg></body></html>
